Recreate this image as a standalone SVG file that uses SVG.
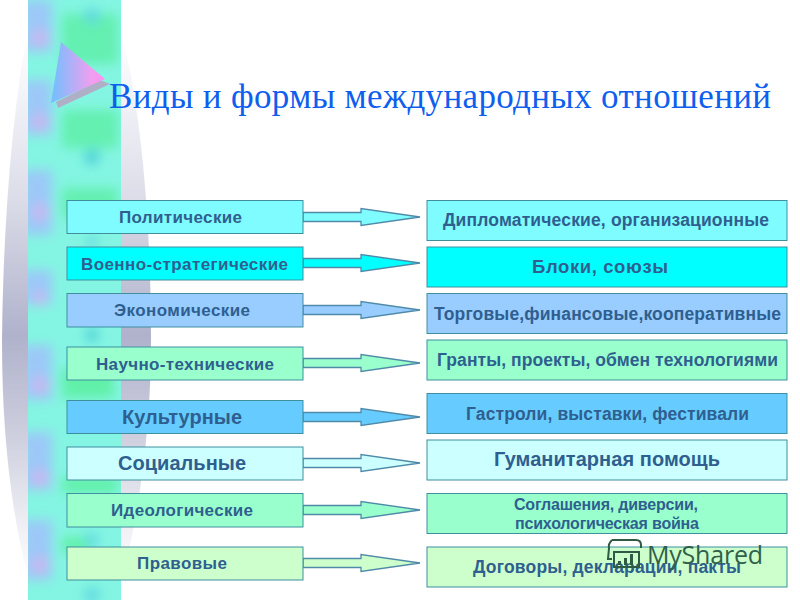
<svg xmlns="http://www.w3.org/2000/svg" width="800" height="600" viewBox="0 0 800 600">
<style>
.box{stroke:#3f8f9f;stroke-width:1}
.arrow{stroke:#4f8aa8;stroke-width:1.300}
text{font-family:"Liberation Sans",Arial,sans-serif;font-weight:bold;fill:#2f5f8f;text-anchor:middle}
.s{font-size:17px}
.m{font-size:17.500px}
.t{font-family:"Liberation Serif","Times New Roman",serif;font-weight:normal;font-size:35px;fill:#0f5fef;text-anchor:start}
</style>
<defs>
<linearGradient id="gr" x1="0" y1="0" x2="0" y2="1">
<stop offset="0" stop-color="#fff"/><stop offset=".12" stop-color="#f2f3f8"/><stop offset=".3" stop-color="#dcdde8"/><stop offset=".55" stop-color="#b0b2cc"/><stop offset=".7" stop-color="#c8c9da"/><stop offset=".92" stop-color="#f4f4f8"/><stop offset="1" stop-color="#fff"/>
</linearGradient>
<linearGradient id="tri" x1="0" y1="0" x2="1" y2="0">
<stop offset="0" stop-color="#6fc0ff"/><stop offset=".75" stop-color="#f09ff0"/><stop offset="1" stop-color="#ff90f0"/>
</linearGradient>
<filter id="b" x="-50%" y="-50%" width="200%" height="200%"><feGaussianBlur stdDeviation="6"/></filter>
<clipPath id="strip"><rect x="28" y="0" width="93" height="600"/></clipPath>
</defs>
<rect width="800" height="600" fill="#fff"/>
<path d="M28 30C12 110 3 230 2 340C2 430 10 510 30 585L121 585C142 500 151 420 151 340C151 230 142 110 121 30Z" fill="url(#gr)"/>
<g clip-path="url(#strip)">
<rect x="28" y="0" width="93" height="600" fill="#84f5e2"/>
<g filter="url(#b)">
<rect x="62" y="14" width="56" height="50" fill="#64f0b0"/>
<rect x="62" y="110" width="56" height="38" fill="#64f0b0"/>
<rect x="62" y="188" width="56" height="30" fill="#64f0b0"/>
<rect x="62" y="368" width="52" height="30" fill="#60f0a8"/>
<rect x="62" y="477" width="56" height="16" fill="#60f0a8"/>
<rect x="62" y="537" width="26" height="16" fill="#60f0a8"/>
<rect x="22" y="0" width="30" height="52" fill="#9cc8f8"/>
<rect x="22" y="80" width="30" height="55" fill="#9cc8f8"/>
<rect x="22" y="170" width="30" height="65" fill="#9cc8f8"/>
<rect x="22" y="270" width="30" height="35" fill="#9cc8f8"/>
<rect x="22" y="345" width="30" height="55" fill="#9cc8f8"/>
<rect x="22" y="432" width="30" height="58" fill="#9cc8f8"/>
<rect x="22" y="520" width="30" height="60" fill="#9cc8f8"/>
<circle cx="40" cy="38" r="9" fill="#c8b8f0"/>
<circle cx="40" cy="122" r="9" fill="#c8b8f0"/>
<circle cx="40" cy="212" r="9" fill="#c8b8f0"/>
<circle cx="40" cy="298" r="7" fill="#c8b8f0"/>
<circle cx="40" cy="385" r="9" fill="#c8b8f0"/>
<circle cx="40" cy="478" r="9" fill="#c8b8f0"/>
<circle cx="40" cy="565" r="9" fill="#c8b8f0"/>
<circle cx="92" cy="16" r="8" fill="#60d8e0"/>
<circle cx="92" cy="157" r="8" fill="#50d0d8"/>
<circle cx="92" cy="242" r="6" fill="#60d8e0"/>
<circle cx="92" cy="335" r="7" fill="#50d0d8"/>
<circle cx="92" cy="540" r="7" fill="#60d8e0"/>
<circle cx="92" cy="595" r="8" fill="#60d8e0"/>
</g>
</g>
<polygon points="110,84 58,108 56,102 100,80" fill="#b0afc8"/>
<polygon points="61,42 105,79 51,103" fill="url(#tri)"/>
<text class="t" x="109" y="108" textLength="662">Виды и формы международных отношений</text>
<g id="connectors" class="arrow">
<polygon points="303,212.500 361,212.500 361,208.500 420,217 361,225.500 361,221.500 303,221.500" fill="#7ffcff"/>
<polygon points="303,258.500 361,258.500 361,254.500 420,263 361,271.500 361,267.500 303,267.500" fill="#00ffff"/>
<polygon points="303,305.500 361,305.500 361,301.500 420,310 361,318.500 361,314.500 303,314.500" fill="#99ccff"/>
<polygon points="303,358.500 361,358.500 361,354.500 420,363 361,371.500 361,367.500 303,367.500" fill="#99ffcc"/>
<polygon points="303,412.500 361,412.500 361,408.500 420,417 361,425.500 361,421.500 303,421.500" fill="#66ccff"/>
<polygon points="303,458.500 361,458.500 361,454.500 420,463 361,471.500 361,467.500 303,467.500" fill="#ccffff"/>
<polygon points="303,505.500 361,505.500 361,501.500 420,510 361,518.500 361,514.500 303,514.500" fill="#99ffcc"/>
<polygon points="303,558.500 361,558.500 361,554.500 420,563 361,571.500 361,567.500 303,567.500" fill="#ccffcc"/>
</g>
<g id="n1"><rect class="box" x="67" y="200.500" width="236" height="33" fill="#7ffcff"/><text class="s" x="180.500" y="223" textLength="123">Политические</text></g>
<g id="n2"><rect class="box" x="67" y="247" width="236" height="33" fill="#00ffff"/><text class="s" x="184.500" y="270" textLength="207">Военно-стратегические</text></g>
<g id="n3"><rect class="box" x="67" y="293.500" width="236" height="33.500" fill="#99ccff"/><text class="s" x="182" y="316" textLength="136">Экономические</text></g>
<g id="n4"><rect class="box" x="67" y="347" width="236" height="33" fill="#99ffcc"/><text class="s" x="185" y="370" textLength="178">Научно-технические</text></g>
<g id="n5"><rect class="box" x="67" y="400.500" width="236" height="33" fill="#66ccff"/><text x="182" y="424" font-size="20" textLength="120">Культурные</text></g>
<g id="n6"><rect class="box" x="67" y="447" width="236" height="33" fill="#ccffff"/><text x="182" y="470" font-size="20" textLength="128">Социальные</text></g>
<g id="n7"><rect class="box" x="67" y="493.500" width="236" height="33.500" fill="#99ffcc"/><text class="s" x="182" y="516" textLength="142">Идеологические</text></g>
<g id="n8"><rect class="box" x="67" y="547" width="236" height="33" fill="#ccffcc"/><text class="s" x="182" y="569" textLength="90">Правовые</text></g>
<g id="r1"><rect class="box" x="427" y="200.500" width="360" height="40" fill="#7ffcff"/><text class="m" x="606" y="226" textLength="326">Дипломатические, организационные</text></g>
<g id="r2"><rect class="box" x="427" y="247" width="360" height="40" fill="#00ffff"/><text x="600" y="273" font-size="18.500" textLength="136">Блоки, союзы</text></g>
<g id="r3"><rect class="box" x="427" y="293.500" width="360" height="40" fill="#99ccff"/><text class="m" x="607.500" y="320" textLength="347">Торговые,финансовые,кооперативные</text></g>
<g id="r4"><rect class="box" x="427" y="340" width="360" height="40" fill="#99ffcc"/><text class="m" x="607.500" y="366" textLength="341">Гранты, проекты, обмен технологиями</text></g>
<g id="r5"><rect class="box" x="427" y="393.500" width="360" height="40" fill="#66ccff"/><text class="m" x="607.500" y="420" textLength="283">Гастроли, выставки, фестивали</text></g>
<g id="r6"><rect class="box" x="427" y="440" width="360" height="40" fill="#ccffff"/><text x="607" y="466" font-size="20" textLength="226">Гуманитарная помощь</text></g>
<g id="r7"><rect class="box" x="427" y="493.500" width="360" height="40" fill="#99ffcc"/><text x="606" y="510" font-size="16" textLength="184">Соглашения, диверсии,</text><text x="607" y="529" font-size="16" textLength="184">психологическая война</text></g>
<g id="r8"><rect class="box" x="427" y="547" width="360" height="40" fill="#ccffcc"/><text class="m" x="607" y="573" textLength="268">Договоры, декларации, пакты</text></g>
<g id="watermark" fill="none" stroke="#2f5a44" stroke-width="2">
<path d="M612 540h24q5 0 5 5v3M612 540q-4 4-3 8l-1 11h4M614 552h25v15h-25z"/>
<rect x="618" y="561" width="3" height="4" fill="#2f5a44" stroke="none"/>
<rect x="624" y="558" width="3" height="7" fill="#2f5a44" stroke="none"/>
<rect x="630" y="554" width="3" height="11" fill="#2f5a44" stroke="none"/>
</g>
<text x="647" y="564" font-size="25" style="font-weight:normal;fill:#30604a;text-anchor:start;font-family:'Open Sans',sans-serif" textLength="116">MyShared</text>
</svg>
